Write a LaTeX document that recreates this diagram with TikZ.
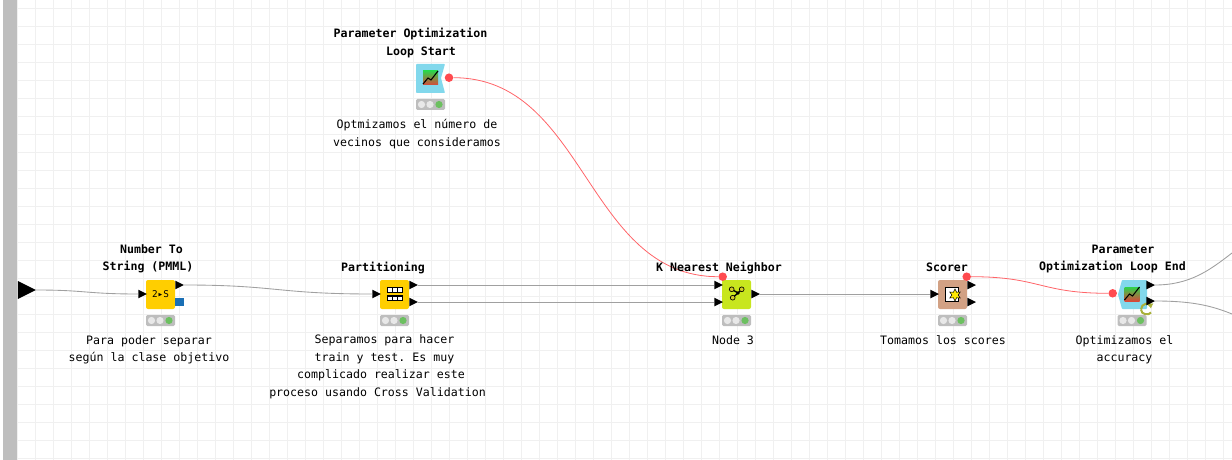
\documentclass[tikz,border=0pt]{standalone}
\usepackage{fontspec}
\setmonofont{DejaVu Sans Mono}
\usepackage{xcolor}
\usetikzlibrary{arrows.meta,positioning,shapes.geometric}
\definecolor{gridgray}{HTML}{F0F0F0}
\definecolor{bargray}{HTML}{BEBEBE}
\definecolor{wiregray}{HTML}{A0A0A0}
\definecolor{wirered}{HTML}{FF6468}
\definecolor{dotred}{HTML}{FF4B50}
\definecolor{manipyellow}{HTML}{FFCE00}
\definecolor{learnergreen}{HTML}{C8E61E}
\definecolor{scorerbrown}{HTML}{D2A184}
\definecolor{loopblue}{HTML}{82D8EC}
\definecolor{pmmlblue}{HTML}{1A6FB5}
\definecolor{lightgreen}{HTML}{6CC060}
\definecolor{lightoff}{HTML}{E8E8E8}
\definecolor{recycle}{HTML}{A9B13A}
\definecolor{charttop}{HTML}{2ED24A}
\definecolor{chartlow}{HTML}{D8483A}
\tikzset{
  knode/.style={
    rounded corners=1.5pt,minimum width=21.75pt,minimum height=21.75pt,
    inner sep=0pt,outer sep=0pt
  },
  titletext/.style={
    align=center,inner sep=0pt,
    font=\ttfamily\bfseries\fontsize{8.7}{13.1}\selectfont
  },
  notetext/.style={
    align=center,inner sep=0pt,
    font=\ttfamily\fontsize{8.7}{13.1}\selectfont
  },
  portin/.style={
    isosceles triangle,isosceles triangle stretches,fill=black,inner sep=0pt,
    outer sep=0pt,minimum width=6.5pt,minimum height=6.5pt
  },
  reddot/.style={circle,fill=dotred,inner sep=0pt,minimum size=6.4pt},
  wire/.style={draw=wiregray,line width=.65pt},
  redwire/.style={draw=wirered,line width=.6pt},
  statuslight/.pic={
    \fill[bargray,rounded corners=1pt] (-14.5,-5.5) rectangle (14.5,5.5);
    \fill[lightoff] (-9,0) circle (3.6) (-.5,0) circle (3.6);
    \fill[lightgreen] (8.5,0) circle (3.6);
  },
  charticon/.pic={
    \shade[top color=charttop,bottom color=chartlow]
      (0,0) rectangle (15,14);
    \draw[black,line width=.8pt] (0,13)--(5,7)--(8,9)--(15,0);
  },
  tableicon/.pic={
    \draw[black,fill=white,line width=.6pt] (0,0) rectangle (15,5);
    \fill[black] (0,0) rectangle (15,1.2);
    \draw[black,line width=.5pt] (5,0)--(5,5) (10,0)--(10,5);
  }
}

\begin{document}
\begin{tikzpicture}[x=.75pt,y=-.75pt]
\useasboundingbox (0,0) rectangle (1232,460);
\foreach \gx in {17,35,...,1232} \draw[gridgray,line width=.6pt] (\gx,0)--(\gx,460);
\foreach \gy in {8,26,...,460} \draw[gridgray,line width=.6pt] (17,\gy)--(1232,\gy);
\fill[bargray] (3,0) rectangle (17,460);

% workflow start
\node[portin,minimum width=13.5pt,minimum height=13.5pt] (inflow) at (23.5,290) {};

% bodies
\node[knode,fill=manipyellow,font=\ttfamily\fontsize{7}{8}\selectfont] (numstr) at (160.5,294.5) {2▸S};
\node[knode,fill=manipyellow] (partition) at (394.5,294.5) {};
\node[knode,fill=learnergreen] (knn) at (736.5,294.5) {};
\node[knode,fill=scorerbrown] (scorer) at (952.5,294.5) {};
\fill[loopblue,rounded corners=.6pt] (416,64)--(445,64)--(441,78)--(445,93)--(416,93)--cycle;
\coordinate (loopstart) at (430.5,78.5);
\fill[loopblue,rounded corners=.6pt] (1122,280)--(1147,280)--(1147,309)--(1122,309)--(1118,294.5)--cycle;
\coordinate (loopend) at (1132.5,294.5);
\node[fill=pmmlblue,inner sep=0pt,minimum size=6.5pt] (pmml) at (179.5,302) {};

% icons
\pic at (423,71) {charticon};
\pic at (1124.5,287) {charticon};
\pic at (387,287) {tableicon};
\pic at (387,295.5) {tableicon};
\draw[black,line width=1pt] (731.7,289.3)--(738,293)--(741.7,289.3) (738,293)--(732.7,297.7);
\foreach \kx/\ky in {731.7/289.3,741.7/289.3,732.7/297.7}
  \draw[black,fill=yellow!80!black,line width=.5pt] (\kx,\ky) circle (2.4);
\fill[black] (738,293) circle (1.8);
\draw[black,fill=white,line width=.5pt] (945.5,287)--(958,287)--(958,301)--(945.5,301)--cycle;
\node[star,star points=6,star point ratio=1.9,fill=yellow!90!orange,draw=black,line width=.4pt,inner sep=0pt,minimum size=9pt] (scorerstar) at (955,295) {};

% status lights
\foreach \sx/\sy in {160.5/320.5,394.5/320.5,736.5/320.5,952.5/320.5,430.5/104.5,1132/320.5}
  \pic at (\sx,\sy) {statuslight};
\draw[recycle,line width=1.5pt,-{Latex[length=3.5pt,width=5pt]}] (1141,309.5)
  .. controls (1141,303) and (1150,302.5) .. (1151,308.5);
\draw[recycle,line width=1.5pt] (1141,309.5) .. controls (1141,315) and (1149,315.5) .. (1151,312.5);

% ports
\node[portin] (numstrin) at (141,294) {};
\node[portin] (numstrout) at (178,285) {};
\node[portin] (partin) at (375,294) {};
\node[portin] (partouta) at (412,285) {};
\node[portin] (partoutb) at (412,302) {};
\node[portin] (knnina) at (717,285) {};
\node[portin] (knninb) at (717,302) {};
\node[portin] (knnout) at (754,294) {};
\node[portin] (scorerin) at (933,294) {};
\node[portin] (scorerouta) at (970,285) {};
\node[portin] (scoreroutb) at (970,302) {};
\node[portin] (endouta) at (1149,285) {};
\node[portin] (endoutb) at (1149,301) {};
\coordinate (exita) at (1232,253);
\coordinate (exitb) at (1232,314);

% variable ports
\node[reddot] (startvar) at (449,77.7) {};
\node[reddot] (knnvar) at (722.7,276.7) {};
\node[reddot] (scorervar) at (966.7,276.7) {};
\node[reddot] (endvar) at (1112.7,293.3) {};

% connectors
\draw[wire] (inflow.east) .. controls (86,290) and (86,294) .. (numstrin.west);
\draw[wire] (numstrout.east) .. controls (277,285) and (277,294) .. (partin.west);
\draw[wire] (partouta.east)--(knnina.west);
\draw[wire] (partoutb.east)--(knninb.west);
\draw[wire] (knnout.east)--(scorerin.west);
\draw[wire] (endouta.east) .. controls (1190,285) and (1210,270) .. (exita);
\draw[wire] (endoutb.east) .. controls (1190,301) and (1210,305) .. (exitb);
\draw[redwire] (startvar.east) .. controls (586,77.7) and (586,276.7) .. (knnvar.west);
\draw[redwire] (scorervar.east) .. controls (1040,276.7) and (1040,293.3) .. (endvar.west);

% labels
\node[titletext] (numstrtitle) at (148,259) {~Number To\\String (PMML)};
\node[titletext] (parttitle) at (383,267.5) {Partitioning};
\node[titletext] (starttitle) at (410.5,42.8) {Parameter Optimization\\~~~Loop Start};
\node[titletext] (knntitle) at (719,267.5) {K Nearest Neighbor};
\node[titletext] (scorertitle) at (947,267.5) {Scorer};
\node[titletext] (endtitle) at (1112.5,259) {~~~Parameter\\Optimization Loop End};
\node[notetext] (numstrnote) at (149,349.8) {Para poder separar\\según la clase objetivo};
\node[notetext] (startnote) at (417,134.3) {Optmizamos el número de\\vecinos que consideramos};
\node[notetext] (partnote) at (377.5,366.8) {~~Separamos para hacer\\~~train y test. Es muy\\~complicado realizar este\\proceso usando Cross Validation};
\node[notetext] (knnnote) at (733,340.5) {Node 3};
\node[notetext] (scorernote) at (943,340.5) {Tomamos los scores};
\node[notetext] (endnote) at (1124.5,349.8) {Optimizamos el\\accuracy};
\end{tikzpicture}
\end{document}
